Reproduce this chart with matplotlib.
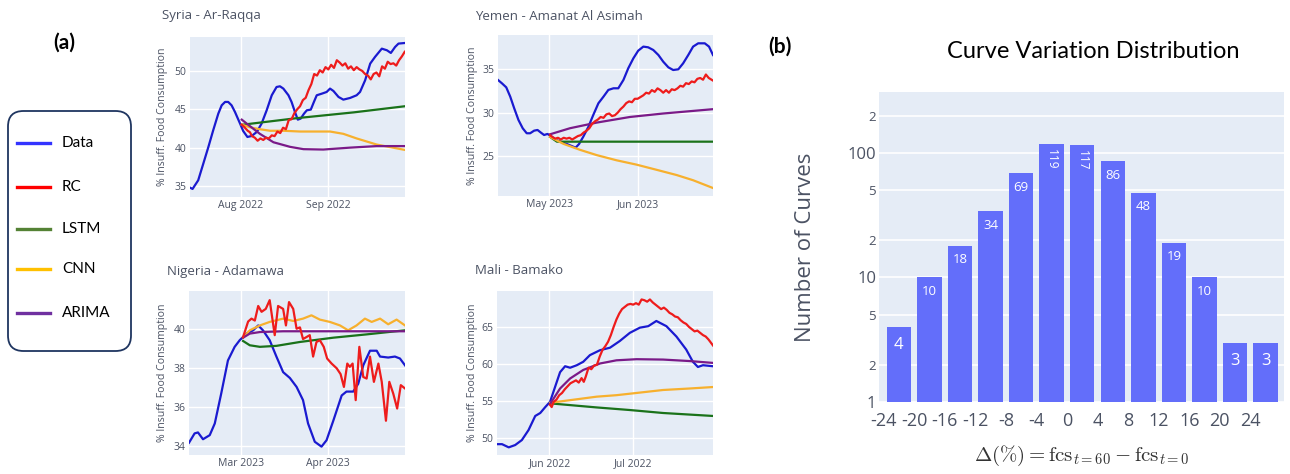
import numpy as np
import pandas as pd
import matplotlib
matplotlib.use('Agg')
import matplotlib.pyplot as plt
import matplotlib.dates as mdates
from matplotlib.patches import FancyBboxPatch
from matplotlib.lines import Line2D

W, H = 1290, 474

# ------------------------------------------------------------------ data
SERIES = ['Data', 'RC', 'LSTM', 'CNN', 'ARIMA']

# Syria - Ar-Raqqa (days relative to 2022-08-01)
SYR_START = '2022-08-01'
SYR_DATA_DAY = [-17.9, -17.0, -15.0, -13.2, -11.4, -9.7, -7.9, -6.7, -5.5, -4.4, -3.2, -2.0, -0.2, 0.9, 2.4,
                3.9, 5.7, 7.4, 9.2, 11.0, 12.7, 13.9, 15.1, 16.9, 18.0, 19.2, 20.2, 21.2, 22.4, 23.4, 24.8,
                25.9, 26.9, 28.7, 30.4, 31.6, 32.8, 34.6, 36.3, 38.7, 41.0, 42.2, 44.0, 45.8, 47.5, 49.9,
                51.7, 53.1, 54.6, 55.8, 58.1]
SYR_DATA_VAL = [34.78, 34.61, 35.74, 37.91, 40.09, 42.26, 44.43, 45.52, 45.96, 45.96, 45.52, 44.65, 43.13,
                42.17, 41.39, 41.52, 42.04, 43.13, 44.87, 46.83, 47.91, 48.0, 47.70, 46.83, 45.96, 44.65,
                43.65, 43.78, 44.43, 44.87, 44.96, 45.96, 46.83, 47.04, 47.26, 47.70, 47.39, 46.61, 46.26,
                46.48, 46.83, 47.26, 48.78, 50.96, 51.83, 52.91, 52.70, 52.35, 53.13, 53.57, 53.65]
SYR_RC_DAY = [0.4, 1.5, 2.5, 3.3, 4, 5, 6, 7, 8, 9, 10, 11, 12, 13, 14, 15, 16, 17, 18, 19, 20, 21, 22, 23,
              24, 25, 26, 27, 28, 29, 30, 31, 32, 33, 34, 35, 36, 37, 38, 39, 40, 41, 42, 43, 44, 45, 46,
              47, 48, 49, 50, 51, 52, 53, 54, 55, 56, 57, 58]
SYR_RC_VAL = [43.0, 42.6, 42.2, 42.0, 41.5, 41.3, 40.9, 41.2, 41.0, 41.3, 41.2, 41.6, 41.5, 42.1, 41.9, 42.6,
              42.4, 43.6, 43.7, 44.5, 45.0, 45.4, 46.2, 46.5, 47.5, 48.3, 49.6, 49.4, 50.1, 49.8, 50.5,
              50.2, 50.8, 50.4, 51.4, 51.1, 50.7, 51.0, 50.3, 50.6, 50.1, 50.5, 50.2, 50.0, 49.6, 49.4,
              48.9, 49.6, 49.8, 49.3, 50.6, 50.3, 51.2, 50.9, 51.0, 50.7, 51.4, 51.9, 52.5]
SYR_LSTM_DAY = [0.9, 20.0, 40.0, 58.1]
SYR_LSTM_VAL = [43.0, 43.85, 44.6, 45.4]
SYR_CNN_DAY = [0.4, 3.3, 6.8, 10.4, 15.1, 21.0, 31.6, 36.3, 41.0, 48.1, 58.1]
SYR_CNN_VAL = [43.0, 42.65, 42.4, 42.2, 42.2, 42.1, 42.1, 41.8, 41.2, 40.4, 39.7]
SYR_ARIMA_DAY = [0.4, 3.3, 6.8, 11.6, 17.5, 22.2, 29.2, 38.7, 48.1, 58.1]
SYR_ARIMA_VAL = [43.65, 42.8, 41.8, 40.7, 40.1, 39.8, 39.75, 40.0, 40.2, 40.2]

# Yemen - Amanat Al Asimah (days relative to 2023-05-01)
YEM_START = '2023-05-01'
YEM_DATA_DAY = [-18.1, -16.7, -15.2, -13.8, -12.4, -10.9, -9.4, -8.0, -6.8, -5.4, -4.2, -3.0, -1.9, -0.7, 0.5,
                2.0, 3.7, 6.1, 7.8, 9.2, 10.4, 11.9, 13.7, 15.4, 17.2, 19.0, 20.7, 22.5, 24.2, 26.0, 27.7,
                29.5, 31.2, 33.0, 34.7, 36.5, 38.3, 40.0, 41.8, 43.5, 45.3, 47.0, 48.8, 50.5, 52.3, 54.6,
                56.1, 57.5]
YEM_DATA_VAL = [33.77, 33.38, 32.92, 31.85, 30.50, 29.15, 28.19, 27.62, 27.62, 27.92, 28.0, 27.69, 27.42,
                27.54, 27.31, 26.92, 26.65, 26.38, 26.15, 25.96, 26.38, 27.23, 28.38, 29.73, 31.08, 31.85,
                32.62, 32.81, 32.81, 33.77, 35.12, 36.27, 37.15, 37.62, 37.54, 37.23, 36.65, 35.88, 35.23,
                34.92, 35.0, 35.69, 36.65, 37.62, 38.0, 38.0, 37.62, 36.65]
YEM_RC_DAY = [0.2, 1, 2, 3, 4, 5, 6, 7, 8, 9, 10, 11, 12, 13, 14, 15, 16, 17, 18, 19, 20, 21, 22, 23, 24, 25,
              26, 27, 28, 29, 30, 31, 32, 33, 34, 35, 36, 37, 38, 39, 40, 41, 42, 43, 44, 45, 46, 47, 48,
              49, 50, 51, 52, 53, 54, 55, 56, 57.5]
YEM_RC_VAL = [27.4, 27.2, 27.0, 27.1, 26.9, 27.1, 27.0, 27.1, 26.9, 27.1, 27.3, 27.4, 27.7, 27.9, 28.2, 28.7,
              29.0, 29.2, 29.5, 29.4, 29.8, 29.9, 29.6, 29.7, 30.0, 30.4, 30.7, 31.1, 31.3, 31.2, 31.6,
              31.6, 31.8, 32.0, 32.3, 32.2, 32.6, 32.4, 32.8, 32.6, 32.3, 32.6, 32.3, 32.7, 32.6, 32.8,
              33.1, 33.0, 33.4, 33.3, 33.6, 33.5, 33.9, 34.0, 33.8, 34.4, 34.0, 33.7]
YEM_LSTM_DAY = [0.2, 2.6, 10.0, 30.0, 57.5]
YEM_LSTM_VAL = [27.2, 26.65, 26.65, 26.65, 26.65]
YEM_CNN_DAY = [0.2, 4.9, 10.8, 16.6, 23.6, 30.6, 37.7, 44.7, 50.5, 57.5]
YEM_CNN_VAL = [27.2, 26.4, 25.7, 25.1, 24.5, 24.0, 23.4, 22.8, 22.2, 21.3]
YEM_ARIMA_DAY = [0.2, 7.2, 16.6, 28.3, 40.0, 57.5]
YEM_ARIMA_VAL = [27.5, 28.2, 28.85, 29.5, 29.9, 30.4]

# Nigeria - Adamawa (days relative to 2023-03-01)
NGA_START = '2023-03-01'
NGA_DATA_DAY = [-18.7, -16.7, -15.5, -13.7, -11.3, -9.5, -7.2, -4.8, -2.4, -0.6, 1.8, 4.2, 6.0, 7.7, 10.1,
                12.5, 14.9, 17.3, 19.7, 22.0, 23.8, 26.2, 28.6, 30.4, 32.8, 35.8, 37.5, 39.9, 41.7, 43.5,
                45.9, 48.3, 49.5, 52.4, 54.8, 56.6, 58.4]
NGA_DATA_VAL = [34.17, 34.65, 34.7, 34.35, 34.56, 35.16, 36.7, 38.4, 39.1, 39.44, 39.78, 39.95, 40.2, 39.95,
                39.44, 38.6, 37.8, 37.5, 37.04, 36.36, 35.16, 34.22, 33.97, 34.3, 35.3, 36.6, 36.8, 36.8,
                37.2, 38.15, 38.9, 38.9, 38.6, 38.55, 38.6, 38.5, 38.15]
NGA_RC_DAY = [0.6, 2.4, 3.6, 4.8, 6.0, 7.2, 8.7, 10.1, 11.9, 13.1, 14.9, 15.9, 17.0, 18.5, 19.7, 20.9, 22.0,
              23.2, 24.4, 25.6, 26.8, 28.0, 29.4, 30.6, 32.2, 34.0, 35.4, 36.6, 37.8, 38.7, 39.7, 40.8,
              42.1, 43.5, 44.7, 45.9, 47.3, 48.9, 50.1, 51.6, 52.8, 54.2, 55.6, 56.9, 58.4]
NGA_RC_VAL = [39.6, 40.4, 40.55, 40.45, 41.2, 40.9, 41.05, 41.5, 39.7, 41.2, 41.05, 40.2, 41.4, 41.05, 40.03,
              40.1, 39.5, 39.6, 39.7, 38.6, 39.35, 39.44, 39.1, 38.5, 38.24, 38.0, 37.7, 37.04, 38.24,
              38.07, 38.24, 36.36, 39.1, 37.55, 37.47, 38.6, 37.3, 38.24, 37.3, 35.3, 37.3, 36.7, 35.93,
              37.13, 36.96]
NGA_LSTM_DAY = [0.6, 3.0, 6.6, 12.5, 20.9, 32.8, 44.7, 58.4]
NGA_LSTM_VAL = [39.4, 39.18, 39.1, 39.15, 39.35, 39.57, 39.74, 39.95]
NGA_CNN_DAY = [0.6, 3.0, 6.6, 10.1, 14.9, 18.5, 22.0, 25.0, 28.0, 31.6, 35.2, 38.1, 41.1, 44.1, 46.5, 49.5,
               52.4, 55.4, 58.4]
NGA_CNN_VAL = [39.57, 39.95, 40.2, 40.38, 40.55, 40.43, 40.55, 40.72, 40.5, 40.38, 40.2, 39.95, 40.2, 40.55,
               40.38, 40.55, 40.26, 40.5, 40.2]
NGA_ARIMA_DAY = [0.6, 3.0, 6.6, 14.9, 58.4]
NGA_ARIMA_VAL = [39.57, 39.78, 39.86, 39.9, 39.9]

# Mali - Bamako (days relative to 2022-06-01)
MLI_START = '2022-06-01'
MLI_DATA_DAY = [-18.8, -17.0, -14.6, -12.3, -9.9, -7.5, -5.1, -3.3, -1.5, 0.2, 2.0, 3.8, 5.6, 7.4, 9.8, 12.1,
                14.5, 18.1, 21.7, 25.2, 28.8, 32.4, 35.4, 38.3, 41.9, 45.5, 49.0, 51.4, 53.2, 55.0, 58.6]
MLI_DATA_VAL = [49.2, 49.2, 48.77, 49.08, 49.75, 51.1, 53.0, 53.4, 54.2, 54.9, 56.9, 58.9, 59.7, 59.5, 59.84,
                60.3, 61.2, 61.86, 62.2, 63.1, 64.2, 64.9, 65.1, 65.8, 65.1, 63.7, 61.95, 60.3, 59.6,
                59.84, 59.7]
MLI_RC_DAY = [0.2, 0.8, 1.5, 2.5, 3.5, 4.5, 5.5, 6.5, 7.5, 8.5, 9.5, 10.5, 11.5, 12.3, 13, 14, 15, 16, 17, 18,
              19, 20, 21, 22, 23, 24, 25, 26, 27, 28, 29, 30, 31, 32, 33, 34, 35, 36, 37, 38, 39, 40, 41,
              42, 43, 44, 45, 46, 47, 48, 49, 50, 51, 52, 53, 54, 55, 56, 57, 58, 58.6]
MLI_RC_VAL = [54.5, 54.2, 54.9, 55.2, 55.8, 56.1, 56.6, 57.0, 57.4, 57.6, 57.8, 57.5, 58.1, 57.6, 58.3, 59.5,
              59.3, 59.8, 59.9, 61.0, 61.9, 62.4, 63.0, 63.9, 65.0, 66.0, 66.8, 67.4, 67.7, 68.0, 68.1,
              68.0, 68.2, 68.0, 68.7, 68.6, 68.4, 68.7, 68.3, 68.0, 67.7, 67.4, 67.6, 67.3, 66.9, 66.7,
              66.4, 66.3, 65.9, 65.6, 65.4, 65.0, 64.7, 64.4, 64.5, 64.2, 63.9, 63.7, 63.3, 62.8, 62.5]
MLI_LSTM_DAY = [0.2, 16.9, 28.8, 40.7, 58.6]
MLI_LSTM_VAL = [54.7, 54.15, 53.8, 53.4, 53.0]
MLI_CNN_DAY = [0.2, 7.4, 16.9, 24.0, 31.2, 40.7, 50.2, 58.6]
MLI_CNN_VAL = [54.78, 55.13, 55.6, 55.8, 56.1, 56.5, 56.7, 56.9]
MLI_ARIMA_DAY = [0.2, 3.8, 7.4, 12.1, 18.1, 24.0, 31.2, 40.7, 50.2, 58.6]
MLI_ARIMA_VAL = [54.6, 56.7, 58.05, 59.2, 60.07, 60.5, 60.65, 60.6, 60.4, 60.15]

# Histogram (b)
BIN_CENTERS = [-22, -18, -14, -10, -6, -2, 2, 6, 10, 14, 18, 22, 26]
COUNTS = [4, 10, 18, 34, 69, 119, 117, 86, 48, 19, 10, 3, 3]
X_TICKS = [-24, -20, -16, -12, -8, -4, 0, 4, 8, 12, 16, 20, 24]
Y_TICKS = [1, 2, 5, 10, 20, 50, 100, 200]
Y_TICK_LABELS = ['1', '2', '5', '10', '2', '5', '100', '2']

# ------------------------------------------------------------------ style
LINE_COLORS = ['#1a1ad0', '#ee1c1c', '#1a721a', '#f7b02e', '#7a1a88']
LEGEND_COLORS = ['#3333ff', '#ff0000', '#548235', '#ffc000', '#7030a0']
BG = '#e5ecf6'
TXT = '#4b5263'
PLOTLY_FONT = ['Open Sans', 'DejaVu Sans']
OFFICE_FONT = ['Lato', 'DejaVu Sans']

plt.rcParams['font.family'] = PLOTLY_FONT
plt.rcParams['mathtext.fontset'] = 'cm'

fig = plt.figure(figsize=(W / 100, H / 100), dpi=100)


def rect(l, t, r, b):
    return [l / W, 1 - b / H, (r - l) / W, (b - t) / H]


def fx(x):
    return x / W


def fy(y):
    return 1 - y / H


def to_dates(start, days):
    return pd.Timestamp(start) + pd.to_timedelta(np.asarray(days, dtype=float), unit='D')


panels = [
    dict(title='Syria - Ar-Raqqa', start=SYR_START, box=(190, 37, 405, 197), xl=(-17.9, 58.1),
         yl=(33.56, 54.43), ystep=5, title_xy=(162, 15), ylab_x=163,
         series=[(SYR_DATA_DAY, SYR_DATA_VAL), (SYR_RC_DAY, SYR_RC_VAL), (SYR_LSTM_DAY, SYR_LSTM_VAL),
                 (SYR_CNN_DAY, SYR_CNN_VAL), (SYR_ARIMA_DAY, SYR_ARIMA_VAL)]),
    dict(title='Yemen - Amanat Al Asimah', start=YEM_START, box=(498, 35, 713, 196), xl=(-18.1, 57.5),
         yl=(20.38, 38.96), ystep=5, title_xy=(475, 16), ylab_x=472,
         series=[(YEM_DATA_DAY, YEM_DATA_VAL), (YEM_RC_DAY, YEM_RC_VAL), (YEM_LSTM_DAY, YEM_LSTM_VAL),
                 (YEM_CNN_DAY, YEM_CNN_VAL), (YEM_ARIMA_DAY, YEM_ARIMA_VAL)]),
    dict(title='Nigeria - Adamawa', start=NGA_START, box=(189, 291, 405, 455), xl=(-18.7, 58.4),
         yl=(33.54, 41.97), ystep=2, title_xy=(167, 272), ylab_x=162,
         series=[(NGA_DATA_DAY, NGA_DATA_VAL), (NGA_RC_DAY, NGA_RC_VAL), (NGA_LSTM_DAY, NGA_LSTM_VAL),
                 (NGA_CNN_DAY, NGA_CNN_VAL), (NGA_ARIMA_DAY, NGA_ARIMA_VAL)]),
    dict(title='Mali - Bamako', start=MLI_START, box=(497, 291, 713, 455), xl=(-18.8, 58.6),
         yl=(47.74, 69.84), ystep=5, title_xy=(475, 271), ylab_x=472,
         series=[(MLI_DATA_DAY, MLI_DATA_VAL), (MLI_RC_DAY, MLI_RC_VAL), (MLI_LSTM_DAY, MLI_LSTM_VAL),
                 (MLI_CNN_DAY, MLI_CNN_VAL), (MLI_ARIMA_DAY, MLI_ARIMA_VAL)]),
]

# draw order: data first, then forecasts (LSTM, CNN, ARIMA, RC)
order = [0, 2, 3, 4, 1]
for p in panels:
    ax = fig.add_axes(rect(*p['box']))
    ax.set_facecolor(BG)
    for s in ax.spines.values():
        s.set_visible(False)
    for i in order:
        d, v = p['series'][i]
        ax.plot(to_dates(p['start'], d), v, color=LINE_COLORS[i], lw=1.6, solid_joinstyle='round', zorder=3)
    x0, x1 = to_dates(p['start'], list(p['xl']))
    ax.set_xlim(x0, x1)
    ax.set_ylim(*p['yl'])
    ax.yaxis.set_major_locator(matplotlib.ticker.MultipleLocator(p['ystep']))
    ax.xaxis.set_major_locator(mdates.MonthLocator())
    ax.xaxis.set_major_formatter(mdates.DateFormatter('%b %Y'))
    ax.grid(True, color='white', lw=1.0, zorder=0)
    ax.set_axisbelow(True)
    ax.tick_params(length=0, labelsize=7.5, labelcolor=TXT, pad=2.5)
    fig.text(fx(p['title_xy'][0]), fy(p['title_xy'][1]), p['title'], fontsize=9.5, color=TXT,
             ha='left', va='center')
    yc = (p['box'][1] + p['box'][3]) / 2
    fig.text(fx(p['ylab_x']), fy(yc), '% Insuff. Food Consumption', fontsize=7.6, color=TXT,
             rotation=90, ha='center', va='center')

# ---- legend box (a)
fig.text(fx(64), fy(43), '(a)', fontsize=15, fontweight='bold', family=OFFICE_FONT,
         ha='center', va='center', color='black')
box = FancyBboxPatch((fx(8), fy(351)), fx(123), (351 - 111) / H,
                     boxstyle='round,pad=0,rounding_size=0.012', transform=fig.transFigure,
                     facecolor='white', edgecolor='#1f3560', lw=1.3, mutation_aspect=W / H)
fig.add_artist(box)
leg_rows = [143, 187, 229, 269, 313]
for name, col, yy in zip(SERIES, LEGEND_COLORS, leg_rows):
    fig.add_artist(Line2D([fx(17), fx(50)], [fy(yy), fy(yy)], color=col, lw=2.4,
                          transform=fig.transFigure))
    fig.text(fx(62), fy(yy), name, fontsize=11, family=OFFICE_FONT, ha='left', va='center',
             color='black')

# ---- histogram (b)
fig.text(fx(780), fy(47), '(b)', fontsize=15, fontweight='bold', family=OFFICE_FONT,
         ha='center', va='center', color='black')
fig.text(fx(1093), fy(52), 'Curve Variation Distribution', fontsize=17, family=OFFICE_FONT,
         ha='center', va='center', color='black')

axb = fig.add_axes(rect(879, 92, 1284, 402))
axb.set_facecolor(BG)
for s in axb.spines.values():
    s.set_visible(False)
axb.set_yscale('log')
axb.bar(BIN_CENTERS, COUNTS, width=3.2, color='#636efa', zorder=3)
axb.set_xlim(-24.6, 28.4)
axb.set_ylim(1, 309)
axb.set_xticks(X_TICKS)
axb.set_xticklabels([str(t) for t in X_TICKS])
axb.set_yticks(Y_TICKS)
axb.set_yticklabels(Y_TICK_LABELS)
axb.yaxis.set_minor_locator(matplotlib.ticker.NullLocator())
axb.grid(True, axis='y', color='white', lw=1.2, zorder=0)
axb.set_axisbelow(True)
axb.tick_params(length=0, labelcolor=TXT)
axb.tick_params(axis='x', labelsize=13, pad=7)
axb.tick_params(axis='y', pad=2)
for lab, val in zip(axb.get_yticklabels(), Y_TICKS):
    lab.set_fontsize(12 if val in (1, 10, 100) else 9.5)
axb.set_ylabel('Number of Curves', fontsize=16, color=TXT, labelpad=23)
axb.set_xlabel(r'$\Delta(\%) = \mathrm{fcs}_{t=60} - \mathrm{fcs}_{t=0}$', fontsize=15,
               color='#333333', labelpad=10)

BAR_TEXT_SIZE = {1: 12, 2: 9.5, 3: 8.5}
for xc, c in zip(BIN_CENTERS, COUNTS):
    s = str(c)
    n = len(s)
    if n == 3:
        axb.annotate(s, (xc, c), xytext=(0, -16), textcoords='offset pixels', ha='center',
                     va='center', rotation=-90, color='white', fontsize=BAR_TEXT_SIZE[n], zorder=4)
    else:
        off = -18 if n == 1 else -14
        axb.annotate(s, (xc, c), xytext=(0, off), textcoords='offset pixels', ha='center',
                     va='center', color='white', fontsize=BAR_TEXT_SIZE[n], zorder=4)

fig.savefig('out.png', dpi=100)
